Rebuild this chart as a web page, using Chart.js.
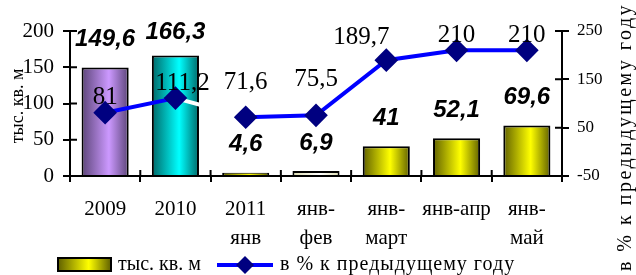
<!DOCTYPE html>
<html>
<head>
<meta charset="utf-8">
<script src="https://cdn.jsdelivr.net/npm/chart.js@4"></script>
<style>
  html, body { margin: 0; padding: 0; background: #fff; }
  #wrap { width: 636px; height: 275px; }
</style>
</head>
<body>
<div id="wrap"><canvas id="chart" width="636" height="275"></canvas></div>
<script>
const categories = [['2009'], ['2010'], ['2011', 'янв'], ['янв-', 'фев'], ['янв-', 'март'], ['янв-апр'], ['янв-', 'май']];
const areaValues = [149.6, 166.3, 4.6, 6.9, 41, 52.1, 69.6];
const percentValues = [81, 111.2, 71.6, 75.5, 189.7, 210, 210];
const leftTicks = [0, 50, 100, 150, 200];
const rightTicks = [-50, 50, 150, 250];

const areaLabel = 'тыс. кв. м';
const percentLabel = 'в % к предыдущему году';

// gradient colours per bar: [edge, middle]
const palette = [
  ['#5c4579', '#cc99ff'],
  ['#006868', '#00ffff'],
  ['#606000', '#ffff00'],
  ['#dcdcb0', '#ffffff'],
  ['#606000', '#ffff00'],
  ['#606000', '#ffff00'],
  ['#606000', '#ffff00']
];
const barPct = 0.67;
const serif = '"Liberation Serif", "Times New Roman", serif';
const sans = '"Liberation Sans", Arial, sans-serif';

function fmt(v) { return String(v).replace('.', ','); }

function barFill(c) {
  const chart = c.chart;
  const xs = chart.scales.x;
  if (!chart.chartArea || !xs || c.dataIndex === undefined) return '#ff0';
  const w = xs.width / categories.length * barPct;
  const cx = xs.getPixelForValue(c.dataIndex);
  const p = palette[c.dataIndex];
  const g = chart.ctx.createLinearGradient(cx - w / 2, 0, cx + w / 2, 0);
  g.addColorStop(0, p[0]);
  g.addColorStop(0.58, p[1]);
  g.addColorStop(1, p[0]);
  return g;
}

const extras = {
  id: 'extras',
  afterDraw(chart) {
    const ctx = chart.ctx;
    const a = chart.chartArea;
    ctx.save();
    ctx.strokeStyle = '#000';
    ctx.lineWidth = 2;
    // inner halves of tick marks
    ctx.beginPath();
    leftTicks.forEach(t => {
      const y = chart.scales.y.getPixelForValue(t);
      ctx.moveTo(a.left, y); ctx.lineTo(a.left + 7, y);
    });
    rightTicks.forEach(t => {
      const y = chart.scales.y2.getPixelForValue(t);
      ctx.moveTo(a.right - 7, y); ctx.lineTo(a.right, y);
    });
    for (let i = 0; i <= categories.length; i++) {
      const x = a.left + i * (a.right - a.left) / categories.length;
      ctx.moveTo(x, a.bottom - 6); ctx.lineTo(x, a.bottom);
    }
    ctx.stroke();

    // bar value labels
    const bars = chart.getDatasetMeta(0).data;
    ctx.fillStyle = '#000';
    ctx.textAlign = 'center';
    ctx.textBaseline = 'middle';
    ctx.font = 'bold italic 24px ' + sans;
    bars.forEach((b, i) => {
      ctx.fillText(fmt(areaValues[i]), b.x, Math.max(b.y - 28, 32));
    });

    // line value labels
    const shift = [[0, -15], [7, -15], [0, -35], [0, -36], [-25, -23], [0, -15], [0, -15]];
    const pts = chart.getDatasetMeta(1).data;
    ctx.font = '25px ' + serif;
    pts.forEach((p, i) => {
      ctx.fillText(fmt(percentValues[i]), p.x + shift[i][0], p.y + shift[i][1]);
    });

    // axis titles
    ctx.font = '18px ' + serif;
    ctx.save();
    ctx.translate(18, 106);
    ctx.rotate(-Math.PI / 2);
    ctx.fillText(areaLabel, 0, 0);
    ctx.restore();
    ctx.font = '20px ' + serif;
    ctx.letterSpacing = '2.5px';
    ctx.save();
    ctx.translate(626, 137);
    ctx.rotate(-Math.PI / 2);
    ctx.fillText(percentLabel, 0, 0);
    ctx.restore();

    // legend
    ctx.letterSpacing = '0px';
    const g = ctx.createLinearGradient(58, 0, 111, 0);
    g.addColorStop(0, '#606000'); g.addColorStop(0.58, '#ffff00'); g.addColorStop(1, '#606000');
    ctx.fillStyle = g;
    ctx.fillRect(58, 258, 53, 13);
    ctx.strokeRect(58, 258, 53, 13);
    ctx.fillStyle = '#000';
    ctx.textAlign = 'left';
    ctx.font = '20px ' + serif;
    ctx.fillText(areaLabel, 118, 265);
    ctx.strokeStyle = '#0000ff';
    ctx.lineWidth = 4;
    ctx.beginPath(); ctx.moveTo(217, 265); ctx.lineTo(273, 265); ctx.stroke();
    ctx.fillStyle = '#000080';
    ctx.beginPath();
    ctx.moveTo(245, 256); ctx.lineTo(254, 265); ctx.lineTo(245, 274); ctx.lineTo(236, 265);
    ctx.closePath(); ctx.fill();
    ctx.fillStyle = '#000';
    ctx.letterSpacing = '1px';
    ctx.fillText(percentLabel, 280, 265);
    ctx.restore();
  }
};

new Chart(document.getElementById('chart'), {
  data: {
    labels: categories,
    datasets: [{
      type: 'bar',
      label: areaLabel,
      data: areaValues,
      yAxisID: 'y',
      backgroundColor: barFill,
      borderColor: '#000',
      borderWidth: 2,
      barPercentage: barPct,
      categoryPercentage: 1,
      order: 1
    }, {
      type: 'line',
      label: percentLabel,
      data: percentValues,
      yAxisID: 'y2',
      borderColor: '#0000ff',
      borderWidth: 4,
      segment: { borderColor: c => c.p0DataIndex === 1 ? '#ffffff' : '#0000ff' },
      pointStyle: 'rectRot',
      pointRadius: 9,
      pointHoverRadius: 9,
      pointBackgroundColor: '#000080',
      pointBorderColor: '#000080',
      tension: 0,
      order: 0
    }]
  },
  options: {
    responsive: false,
    animation: false,
    events: [],
    layout: { padding: { top: 31 } },
    plugins: { legend: { display: false }, tooltip: { enabled: false } },
    scales: {
      x: {
        offset: true,
        grid: { offset: true, drawOnChartArea: false, color: '#000', lineWidth: 2, tickLength: 6 },
        border: { color: '#000', width: 2 },
        ticks: { color: '#000', font: { family: serif, size: 21, lineHeight: 1.38 }, padding: 13, maxRotation: 0, autoSkip: false },
        afterFit: s => { s.height = 99; }
      },
      y: {
        position: 'left',
        min: 0, max: 200,
        grid: { drawOnChartArea: false, color: '#000', lineWidth: 2, tickLength: 7 },
        border: { color: '#000', width: 2 },
        ticks: { stepSize: 50, color: '#000', font: { family: serif, size: 21 }, padding: 9 },
        afterFit: s => { s.width = 70; }
      },
      y2: {
        position: 'right',
        min: -50, max: 250,
        grid: { drawOnChartArea: false, color: '#000', lineWidth: 2, tickLength: 7 },
        border: { color: '#000', width: 2 },
        ticks: { stepSize: 100, color: '#000', font: { family: serif, size: 17 }, padding: 8 },
        afterFit: s => { s.width = 74; }
      }
    }
  },
  plugins: [extras]
});
</script>
</body>
</html>
